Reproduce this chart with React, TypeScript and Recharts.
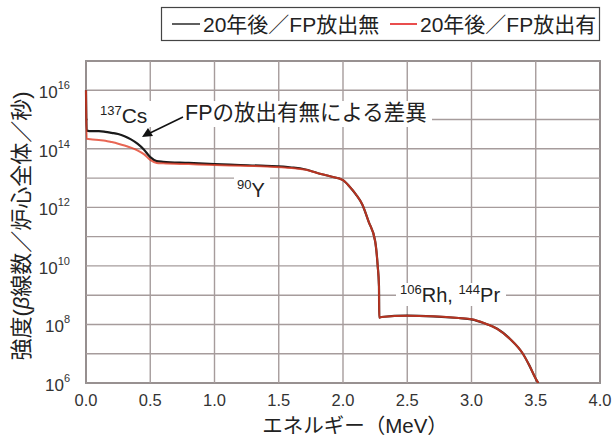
import React from 'react';
import { LineChart, Line, XAxis, YAxis, ReferenceLine, ReferenceArea } from 'recharts';

// Energy (MeV)
const energies = [
  0, 0.005, 0.05, 0.1, 0.15, 0.2, 0.25, 0.3, 0.35, 0.4, 0.45, 0.5, 0.55, 0.6, 0.8,
  1.0, 1.2, 1.4, 1.6, 1.7, 1.8, 1.9, 2.0, 2.05, 2.1, 2.15, 2.2, 2.25, 2.27, 2.28,
  2.282, 2.3, 2.5, 2.7, 2.9, 3.0, 3.1, 3.2, 3.3, 3.4, 3.45, 3.5, 3.52,
];

// 20年後／FP放出無 (β/core/s)
const noRelease = [
  1e16, 4.2e14, 4.0e14, 4.0e14, 3.8e14, 3.5e14, 3.2e14, 2.7e14, 2.1e14, 1.5e14, 9.5e13, 5.2e13, 3.8e13, 3.6e13, 3.3e13,
  3.0e13, 2.8e13, 2.6e13, 2.3e13, 2.0e13, 1.5e13, 1.15e13, 8.5e12, 5.2e12, 2.8e12, 1.26e12, 3.2e11, 7.1e10, 1.0e10, 2.0e9,
  1.7e8, 1.8e8, 2.0e8, 1.9e8, 1.66e8, 1.5e8, 1.1e8, 7.1e7, 3.2e7, 1.0e7, 4.0e6, 1.4e6, 1.0e6,
];

// 20年後／FP放出有 (β/core/s)
const withRelease = [
  1e16, 2.2e14, 2.1e14, 2.0e14, 1.9e14, 1.7e14, 1.5e14, 1.3e14, 1.1e14, 8.9e13, 6.6e13, 4.2e13, 3.3e13, 3.2e13, 3.0e13,
  2.8e13, 2.65e13, 2.5e13, 2.2e13, 1.95e13, 1.5e13, 1.15e13, 8.5e12, 5.2e12, 2.8e12, 1.26e12, 3.2e11, 7.1e10, 1.0e10, 2.0e9,
  1.7e8, 1.8e8, 2.0e8, 1.9e8, 1.66e8, 1.5e8, 1.1e8, 7.1e7, 3.2e7, 1.0e7, 4.0e6, 1.4e6, 1.0e6,
];

const xTicks = [0, 0.5, 1, 1.5, 2, 2.5, 3, 3.5, 4];
const yTicks = [1e6, 1e7, 1e8, 1e9, 1e10, 1e11, 1e12, 1e13, 1e14, 1e15, 1e16, 1e17];
const yLabelExponents = [6, 8, 10, 12, 14, 16];
const seriesNames = ['20年後／FP放出無', '20年後／FP放出有'];
const seriesColors = ['#1a1a1a', '#e23b24'];
const legendColors = ['#1a1a1a', '#e00000'];

const data = energies.map((e, i) => ({ e, noRelease: noRelease[i], withRelease: withRelease[i] }));

const FONT = '"Liberation Sans", Arial, "Noto Sans CJK JP", sans-serif';
const GRID = '#a69c9c';

const YTick = (props: any) => {
  const { x, y, payload } = props;
  const exp = Math.round(Math.log10(payload.value));
  if (!yLabelExponents.includes(exp)) return null;
  return (
    <text x={x - 8} y={y + 8} textAnchor="end" fontFamily={FONT} fontSize={17} fill="#333">
      10<tspan fontSize={11} dy={-9}>{exp}</tspan>
    </text>
  );
};

export default function App() {
  return (
    <div style={{ position: 'absolute', left: 0, top: 0, width: 612, height: 443, background: '#fff' }}>
      <LineChart width={612} height={443} data={data} margin={{ top: 61, right: 12, left: 0, bottom: 0 }}>
        <XAxis
          dataKey="e"
          type="number"
          domain={[0, 4]}
          ticks={xTicks}
          tickFormatter={(v: number) => v.toFixed(1)}
          tickLine={false}
          axisLine={false}
          tickMargin={5}
          height={60}
          tick={{ fontFamily: FONT, fontSize: 16.5, fill: '#333' }}
        />
        <YAxis
          scale="log"
          domain={[1e6, 1e17]}
          ticks={yTicks}
          allowDataOverflow
          width={86}
          tickLine={false}
          axisLine={false}
          tick={<YTick />}
        />
        {xTicks.map((t) => (
          <ReferenceLine key={'vx' + t} x={t} stroke={GRID} strokeWidth={1.4} />
        ))}
        {yTicks.map((t) => (
          <ReferenceLine key={'hy' + t} y={t} stroke={GRID} strokeWidth={1.4} />
        ))}
        <ReferenceArea x1={0} x2={4} y1={1e6} y2={1e17} fill="none" fillOpacity={0} stroke="#444" strokeWidth={1.5} />
        <Line type="monotone" dataKey="noRelease" stroke={seriesColors[0]} strokeWidth={2.2} dot={false} isAnimationActive={false} />
        <Line type="monotone" dataKey="withRelease" stroke={seriesColors[1]} strokeOpacity={0.78} strokeWidth={2} dot={false} isAnimationActive={false} />
      </LineChart>
      <svg width={612} height={443} style={{ position: 'absolute', left: 0, top: 0, pointerEvents: 'none' }} fontFamily={FONT}>
        {/* legend */}
        <rect x={161.5} y={7.5} width={438} height={33} fill="#fff" stroke="#444" strokeWidth={1.2} />
        <line x1={172} x2={200} y1={24} y2={24} stroke={legendColors[0]} strokeWidth={1.4} />
        <text x={203} y={31.5} fontSize={21} fill="#222">{seriesNames[0]}</text>
        <line x1={390} x2={417} y1={24} y2={24} stroke={legendColors[1]} strokeWidth={1.4} />
        <text x={420} y={31.5} fontSize={21} fill="#222">{seriesNames[1]}</text>

        {/* annotations */}
        <rect x={88} y={101} width={344} height={26} fill="#fff" />
        <text x={100} y={123} fontSize={21} fill="#222">
          <tspan fontSize={13} dy={-8}>137</tspan>
          <tspan dy={8}>Cs</tspan>
        </text>
        <text x={185} y={120} fontSize={21.5} fill="#222">FPの放出有無による差異</text>
        <line x1={183} y1={117} x2={150} y2={133} stroke="#111" strokeWidth={1.5} />
        <polygon points="142,137 148,128 153,136" fill="#111" />

        <rect x={234} y={176} width={36} height={24} fill="#fff" />
        <text x={237} y={197} fontSize={20} fill="#222">
          <tspan fontSize={13} dy={-8}>90</tspan>
          <tspan dy={8}>Y</tspan>
        </text>

        <rect x={396} y={283} width={110} height={23} fill="#fff" />
        <text x={400} y={302} fontSize={20} fill="#222">
          <tspan fontSize={13} dy={-8}>106</tspan>
          <tspan dy={8}>Rh, </tspan>
          <tspan fontSize={13} dy={-8}>144</tspan>
          <tspan dy={8}>Pr</tspan>
        </text>

        {/* axis titles */}
        <text transform="translate(29,226) rotate(-90)" textAnchor="middle" fontSize={22} fill="#222">
          強度(<tspan fontStyle="italic">β</tspan>線数／炉心全体／秒)
        </text>
        <text x={355} y={433} textAnchor="middle" fontSize={20.5} fill="#222">エネルギー（MeV）</text>
      </svg>
    </div>
  );
}
